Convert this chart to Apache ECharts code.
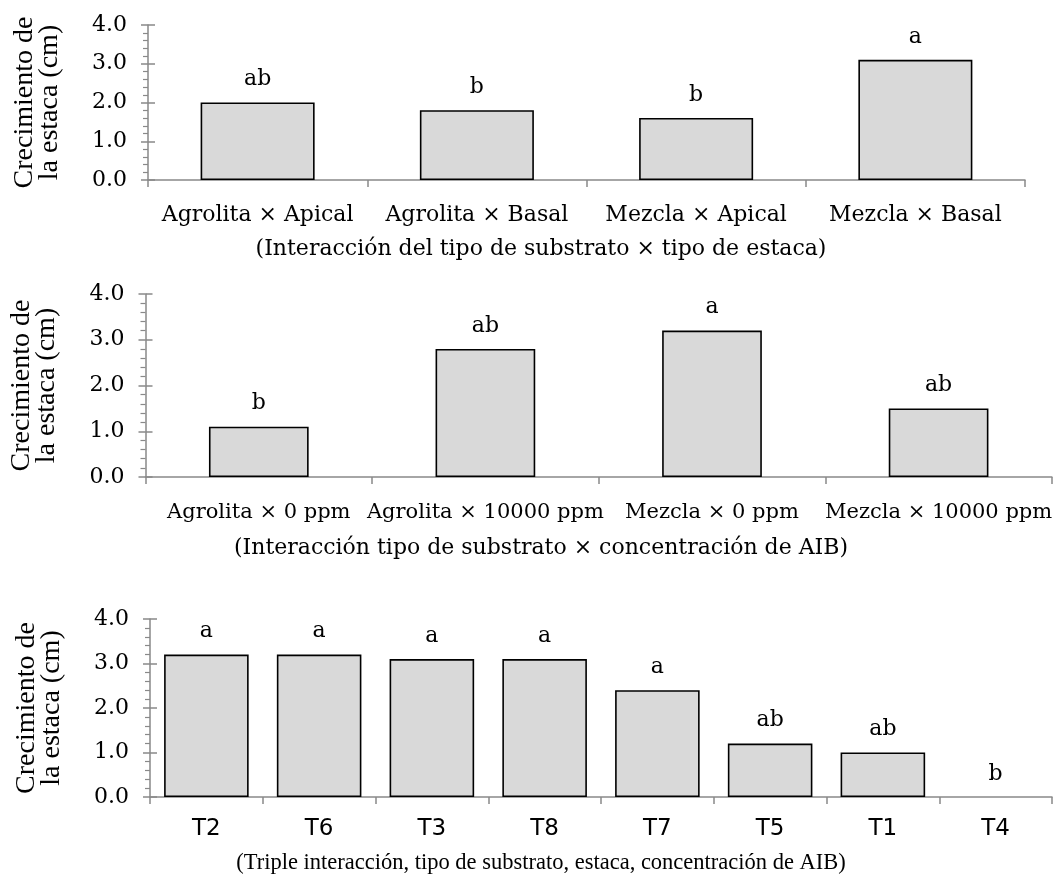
<!DOCTYPE html>
<html>
<head>
<meta charset="utf-8">
<script src="https://cdn.jsdelivr.net/npm/echarts@6/dist/echarts.min.js"></script>
<style>html,body{margin:0;padding:0;background:#fff;}#c{width:1055px;height:888px;}</style>
</head>
<body>
<div id="c"></div>
<script>
// ---- data ----
const cat1 = ['Agrolita × Apical', 'Agrolita × Basal', 'Mezcla × Apical', 'Mezcla × Basal'];
const val1 = [2.0, 1.8, 1.6, 3.1];
const let1 = ['ab', 'b', 'b', 'a'];

const cat2 = ['Agrolita × 0 ppm', 'Agrolita × 10000 ppm', 'Mezcla × 0 ppm', 'Mezcla × 10000 ppm'];
const val2 = [1.1, 2.8, 3.2, 1.5];
const let2 = ['b', 'ab', 'a', 'ab'];

const cat3 = ['T2', 'T6', 'T3', 'T8', 'T7', 'T5', 'T1', 'T4'];
const val3 = [3.2, 3.2, 3.1, 3.1, 2.4, 1.2, 1.0, 0];
const let3 = ['a', 'a', 'a', 'a', 'a', 'ab', 'ab', 'b'];

const yTitle = 'Crecimiento de\nla estaca (cm)';
const xTitle1 = '(Interacción del tipo de substrato × tipo de estaca)';
const xTitle2 = '(Interacción tipo de substrato × concentración de AIB)';
const xTitle3 = '(Triple interacción, tipo de substrato, estaca, concentración de AIB)';
const yMin = 0, yMax = 4, yStep = 1;

// ---- styling ----
const AX = '#898989';
const SERIF = '"DejaVu Serif", serif';
const TNR = '"Liberation Serif", "Times New Roman", serif';
const SANS = '"DejaVu Sans", sans-serif';

function yAxesFor(gi) {
  return [
    {
      gridIndex: gi, type: 'value', position: 'left', min: yMin, max: yMax, interval: yStep,
      axisLine: { show: true, lineStyle: { color: AX, width: 1.5 } },
      axisTick: { show: true, length: 7, lineStyle: { color: AX, width: 1.5 } },
      minorTick: { show: true, splitNumber: 5, length: 5, lineStyle: { color: AX, width: 1.2 } },
      splitLine: { show: false },
      axisLabel: { color: '#000', fontFamily: SERIF, fontSize: 22, margin: 21,
                   formatter: v => v.toFixed(1) },
      name: yTitle, nameLocation: 'middle', nameRotate: 90, nameGap: 86,
      nameTextStyle: { color: '#000', fontFamily: TNR, fontSize: 28, lineHeight: 25 }
    },
    {
      gridIndex: gi, type: 'value', position: 'left', offset: 0, min: yMin, max: yMax, interval: yStep,
      axisLine: { show: false },
      axisTick: { show: true, inside: true, length: 7, lineStyle: { color: AX, width: 1.5 } },
      splitLine: { show: false },
      axisLabel: { show: false }
    }
  ];
}

function xAxisFor(gi, cats, font, size, margin) {
  return {
    gridIndex: gi, type: 'category', data: cats,
    axisLine: { show: true, lineStyle: { color: AX, width: 1.5 } },
    axisTick: { show: true, length: 7, lineStyle: { color: AX, width: 1.5 } },
    axisLabel: { interval: 0, color: '#000', fontFamily: font, fontSize: size, margin: margin },
    splitLine: { show: false }
  };
}

function barSeries(xi, yi, vals, lets, gap) {
  return {
    type: 'bar', xAxisIndex: xi, yAxisIndex: yi,
    data: vals.map(v => v === 0 ? { value: v, itemStyle: { borderWidth: 0 } } : v),
    barCategoryGap: gap,
    itemStyle: { color: '#d9d9d9', borderColor: '#000', borderWidth: 1.6 },
    label: { show: true, position: 'top', distance: 12, color: '#000',
             fontFamily: SERIF, fontSize: 22,
             formatter: p => lets[p.dataIndex] },
    emphasis: { disabled: true },
    silent: true
  };
}

function titleText(txt, y, font) {
  return { type: 'text', x: 541, y: y,
           style: { text: txt, fill: '#000', font: font,
                    textAlign: 'center', textVerticalAlign: 'middle' } };
}

const chart = echarts.init(document.getElementById('c'), null, { renderer: 'canvas' });
chart.setOption({
  animation: false,
  backgroundColor: '#fff',
  grid: [
    { left: 148, top: 25, width: 877, height: 155 },
    { left: 144, top: 294, width: 908, height: 183 },
    { left: 150, top: 619, width: 902, height: 178 }
  ],
  xAxis: [
    xAxisFor(0, cat1, SERIF, 22, 24),
    xAxisFor(1, cat2, SERIF, 21, 25),
    xAxisFor(2, cat3, SANS, 23, 21)
  ],
  yAxis: [].concat(yAxesFor(0), yAxesFor(1), yAxesFor(2)),
  series: [
    barSeries(0, 0, val1, let1, '48%'),
    barSeries(1, 2, val2, let2, '56%'),
    barSeries(2, 4, val3, let3, '25%')
  ],
  graphic: [
    titleText(xTitle1, 249, '22px ' + SERIF),
    titleText(xTitle2, 548, '22px ' + SERIF),
    titleText(xTitle3, 863, '22.5px ' + TNR)
  ]
});
</script>
</body>
</html>
